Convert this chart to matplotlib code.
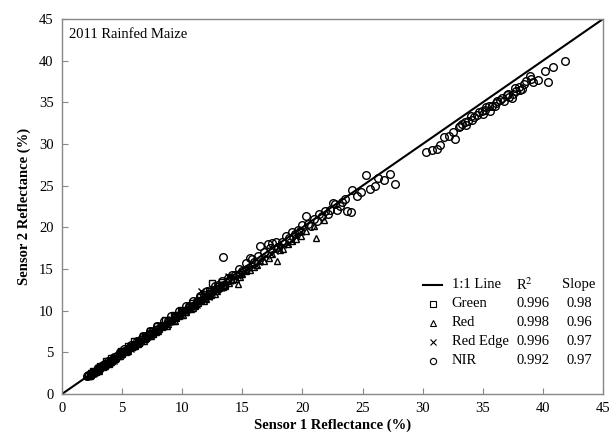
import numpy as np
import matplotlib.pyplot as plt

plt.rcParams['font.family'] = ['Liberation Serif', 'DejaVu Serif']
plt.rcParams['mathtext.fontset'] = 'stix'

# Green band (sensor 1, sensor 2 reflectance %)
green_x = [2.3, 2.4, 2.5, 2.7, 2.9, 3.0, 3.1, 3.3, 3.5, 3.6, 3.8, 4.0, 4.3, 4.6,
           4.8, 5.0, 5.1, 5.2, 5.4, 5.6, 5.7, 5.9, 6.1, 6.3, 6.6, 6.9, 7.1, 7.4,
           7.7, 8.0, 8.2, 8.5, 8.8, 9.1, 9.4, 9.7, 10.0, 10.3, 10.6, 10.9, 11.3,
           11.6, 12.0, 12.3, 12.5, 12.7, 13.1, 13.4, 13.8, 14.2, 14.7, 15.3,
           2.2, 2.6, 2.8, 3.2, 3.4, 3.7, 3.9, 4.1, 4.4, 4.9, 5.3, 5.5, 5.8, 6.0,
           6.4, 6.7, 7.0, 7.3, 7.6, 7.9, 8.3, 8.6, 9.0, 9.3, 9.6, 9.9, 10.2, 10.8,
           11.1, 11.5, 11.9, 12.2, 12.9, 13.3, 13.6]
green_y = [2.3, 2.5, 2.5, 2.6, 2.9, 3.1, 3.0, 3.3, 3.4, 3.6, 3.7, 4.0, 4.2, 4.5,
           4.8, 4.9, 5.1, 5.1, 5.3, 5.5, 5.7, 5.8, 5.9, 6.2, 6.4, 6.8, 6.9, 7.3,
           7.5, 7.8, 8.1, 8.3, 8.7, 8.9, 9.2, 9.5, 9.8, 10.1, 10.4, 10.6, 11.1,
           11.3, 11.8, 12.1, 13.3, 12.4, 12.9, 13.0, 13.5, 13.8, 14.4, 14.9,
           2.1, 2.7, 2.6, 3.4, 3.2, 3.9, 3.6, 4.3, 4.2, 5.1, 5.0, 5.7, 5.6, 6.3,
           6.1, 6.9, 6.7, 7.5, 7.2, 8.1, 8.0, 8.9, 8.7, 9.5, 9.3, 10.1, 9.8, 10.9,
           10.7, 11.6, 11.5, 12.4, 12.6, 13.4, 13.1]

# Red band
red_x = [2.2, 2.4, 2.6, 2.8, 3.0, 3.2, 3.5, 3.7, 4.0, 4.2, 4.5, 4.7, 5.0, 5.3,
         5.5, 5.8, 6.0, 6.3, 6.6, 6.9, 7.2, 7.5, 7.8, 8.1, 8.5, 8.8, 9.2, 9.5,
         9.9, 10.3, 10.7, 11.1, 11.5, 12.0, 12.4, 12.9, 13.4, 13.9, 14.5, 14.6,
         15.0, 15.6, 16.2, 16.8, 17.5, 17.9, 18.1, 18.8, 19.5, 20.3, 21.0, 21.1,
         21.8,
         2.3, 2.5, 2.7, 2.9, 3.1, 3.4, 3.6, 3.9, 4.1, 4.4, 4.8, 5.1, 5.4, 5.7,
         6.1, 6.4, 6.8, 7.1, 7.4, 7.7, 8.0, 8.3, 8.7, 9.0, 9.4, 9.7, 10.1, 10.5,
         10.9, 11.3, 11.8, 12.2, 12.7, 13.1, 13.6, 14.1, 14.8, 15.3, 16.0, 16.5,
         17.2, 18.4, 19.1, 19.9]
red_y = [2.2, 2.3, 2.5, 2.7, 2.9, 3.1, 3.3, 3.6, 3.8, 4.0, 4.3, 4.5, 4.8, 5.1,
         5.2, 5.6, 5.7, 6.0, 6.3, 6.6, 6.9, 7.2, 7.4, 7.8, 8.1, 8.4, 8.8, 9.1,
         9.5, 9.8, 10.2, 10.6, 11.1, 11.4, 11.9, 12.3, 12.8, 13.3, 13.8, 13.2,
         14.4, 14.9, 15.5, 16.0, 16.8, 16.0, 17.3, 18.0, 18.6, 19.5, 20.1, 18.7,
         20.9,
         2.1, 2.5, 2.5, 2.9, 2.8, 3.4, 3.3, 3.9, 3.8, 4.3, 4.5, 5.0, 5.1, 5.6,
         5.7, 6.3, 6.4, 7.0, 7.0, 7.6, 7.5, 8.1, 8.2, 8.8, 8.8, 9.4, 9.5, 10.2,
         10.3, 10.9, 11.2, 11.8, 12.0, 12.7, 12.9, 13.7, 14.0, 14.8, 15.2, 16.0,
         16.3, 17.4, 18.4, 18.9]

# Red edge band
re_x = [2.5, 2.7, 3.0, 3.3, 3.6, 3.9, 4.2, 4.5, 4.9, 5.2, 5.5, 5.9, 6.2, 6.6,
        7.0, 7.3, 7.7, 8.1, 8.5, 8.9, 9.3, 9.7, 10.1, 10.6, 11.0, 11.5, 11.6,
        12.0, 12.5, 13.0, 13.5, 13.8, 14.0, 14.6, 15.2, 15.8, 16.4, 17.0, 17.7,
        18.4, 19.1, 19.9,
        2.4, 2.6, 2.9, 3.1, 3.4, 3.7, 4.0, 4.3, 4.7, 5.0, 5.3, 5.7, 6.0, 6.4,
        6.8, 7.1, 7.5, 7.9, 8.3, 8.7, 9.1, 9.5, 9.9, 10.3, 10.8, 11.2, 11.8,
        12.2, 12.8, 13.2, 14.3, 14.9, 15.5, 16.1, 16.7, 17.4, 18.0, 18.8, 19.5]
re_y = [2.4, 2.7, 2.9, 3.2, 3.5, 3.8, 4.1, 4.4, 4.7, 5.1, 5.3, 5.8, 6.0, 6.4,
        6.8, 7.1, 7.4, 7.9, 8.3, 8.6, 9.1, 9.4, 9.8, 10.3, 10.7, 11.1, 12.4,
        11.7, 12.1, 12.6, 13.2, 14.2, 13.5, 14.2, 14.7, 15.4, 15.8, 16.6, 17.1,
        17.9, 18.4, 19.4,
        2.5, 2.4, 3.0, 2.9, 3.5, 3.5, 4.1, 4.0, 4.7, 4.8, 5.3, 5.4, 6.0, 6.1,
        6.8, 6.8, 7.5, 7.5, 8.2, 8.3, 9.0, 9.1, 9.8, 9.8, 10.6, 10.7, 11.6,
        11.6, 12.5, 12.7, 14.0, 14.4, 15.1, 15.5, 16.3, 16.8, 17.6, 18.0, 19.1]

# NIR band
nir_x = [2.1, 2.4, 2.8, 3.2, 3.6, 4.1, 4.6, 5.0, 5.5, 6.0, 6.5, 7.0, 7.6, 8.2,
         8.8, 9.4, 10.0, 10.6, 11.2, 11.8, 12.4, 13.0, 13.4, 13.8, 14.4, 15.0,
         15.6, 16.0, 16.5, 17.1, 17.5, 18.0, 18.3, 18.9, 19.4, 19.8, 20.3, 20.7,
         21.2, 21.6, 22.1, 22.5, 22.9, 23.3, 23.7, 24.0, 24.1, 24.5, 24.9, 25.3,
         25.6, 26.0, 26.3, 26.8, 27.3, 27.7,
         2.2, 2.6, 3.0, 3.4, 3.8, 4.3, 4.8, 5.2, 5.7, 6.2, 6.7, 7.3, 7.9, 8.5,
         9.1, 9.7, 10.3, 10.9, 11.5, 12.1, 12.7, 13.3, 14.1, 14.7, 15.3, 15.8,
         16.3, 16.8, 17.3, 17.8, 18.6, 19.1, 19.6, 20.0, 20.5, 21.0, 21.4, 21.9,
         22.3, 22.7, 23.1, 23.5,
         30.3, 30.8, 31.2, 31.4, 31.8, 32.2, 32.5, 32.7, 33.0, 33.1, 33.3, 33.5,
         33.6, 33.8, 34.0, 34.1, 34.3, 34.5, 34.7, 34.9, 35.0, 35.2, 35.3, 35.5,
         35.6, 35.8, 36.0, 36.1, 36.2, 36.4, 36.6, 36.8, 37.0, 37.1, 37.2, 37.4,
         37.5, 37.7, 37.8, 38.0, 38.1, 38.3, 38.4, 38.6, 38.9, 39.0, 39.2, 39.6,
         40.2, 40.4, 40.8, 41.8]
nir_y = [2.1, 2.4, 2.8, 3.1, 3.6, 4.0, 4.6, 5.0, 5.4, 5.9, 6.5, 7.0, 7.5, 8.2,
         8.7, 9.4, 9.9, 10.5, 11.1, 11.9, 12.3, 13.1, 16.4, 13.9, 14.3, 14.8,
         16.3, 15.8, 17.7, 18.0, 18.1, 17.6, 18.2, 18.7, 19.2, 19.5, 21.4, 20.2,
         20.7, 21.3, 21.6, 22.9, 22.1, 23.0, 21.9, 21.8, 24.5, 23.8, 24.2, 26.3,
         24.6, 25.0, 25.9, 25.7, 26.4, 25.2,
         2.3, 2.6, 3.1, 3.5, 3.9, 4.4, 5.0, 5.4, 5.9, 6.4, 6.9, 7.5, 8.1, 8.7,
         9.3, 9.9, 10.5, 11.2, 11.7, 12.3, 13.0, 13.6, 14.3, 15.0, 15.7, 16.2,
         16.6, 17.0, 17.5, 18.2, 18.9, 19.4, 19.7, 20.3, 20.4, 21.0, 21.6, 22.0,
         22.1, 22.8, 22.5, 23.4,
         29.0, 29.3, 29.4, 29.9, 30.8, 31.0, 31.4, 30.6, 32.0, 32.1, 32.4, 32.6,
         32.3, 32.8, 33.4, 32.9, 33.2, 33.5, 33.8, 33.9, 33.6, 34.1, 34.4, 34.6,
         34.0, 34.6, 34.6, 34.9, 35.1, 35.3, 35.5, 35.2, 35.9, 36.0, 35.6, 35.5,
         36.0, 36.7, 36.4, 36.8, 36.5, 36.6, 37.2, 37.5, 38.2, 37.8, 37.4, 37.7,
         38.8, 37.4, 39.2, 40.0]

# legend table
leg_labels = ['Green', 'Red', 'Red Edge', 'NIR']
leg_markers = ['s', '^', 'x', 'o']
leg_r2 = ['0.996', '0.998', '0.996', '0.992']
leg_slope = ['0.98', '0.96', '0.97', '0.97']
ticks = [0, 5, 10, 15, 20, 25, 30, 35, 40, 45]

fig = plt.figure(figsize=(6.1, 4.42), dpi=100)
ax = fig.add_axes([0.1016, 0.1086, 0.887, 0.8485])

mk = dict(linestyle='none', mfc='none', mec='black', mew=1.0)
ax.plot(nir_x, nir_y, marker='o', ms=5.5, **mk)
ax.plot(re_x, re_y, marker='x', ms=5, **mk)
ax.plot(red_x, red_y, marker='^', ms=5, **mk)
ax.plot(green_x, green_y, marker='s', ms=4.5, **mk)
ax.plot([0, 45], [0, 45], color='black', lw=1.5)

ax.set_xlim(0, 45)
ax.set_ylim(0, 45)
ax.set_xticks(ticks)
ax.set_yticks(ticks)
ax.tick_params(direction='in', length=4, color='#888888', labelsize=10.5, pad=6)
for s in ax.spines.values():
    s.set_color('#888888')
    s.set_linewidth(1)

ax.set_xlabel('Sensor 1 Reflectance (%)', fontsize=10.5, fontweight='bold', labelpad=2)
ax.set_ylabel('Sensor 2 Reflectance (%)', fontsize=10.5, fontweight='bold', labelpad=6)
ax.text(0.013, 0.975, '2011 Rainfed Maize', transform=ax.transAxes,
        fontsize=10.5, va='top', ha='left')

# legend built as a small table in axes coordinates
tr = ax.transAxes
x_key, x_lab, x_r2, x_sl = 0.69, 0.7205, 0.84, 0.925
y0, dy = 0.291, 0.0505
ax.plot([x_key - 0.022, x_key + 0.012], [y0, y0], color='black', lw=1.5,
        transform=tr, clip_on=False)
ax.text(x_lab, y0, '1:1 Line', transform=tr, fontsize=10.5, va='center')
ax.text(x_r2, y0, 'R$^2$', transform=tr, fontsize=10.5, va='center')
ax.text(x_sl, y0, 'Slope', transform=tr, fontsize=10.5, va='center')
for i, lab in enumerate(leg_labels):
    yy = y0 - dy * (i + 1)
    lm = dict(mk, mew=0.8)
    ax.plot([x_key - 0.005], [yy], marker=leg_markers[i], ms=4.5, transform=tr,
            clip_on=False, **lm)
    ax.text(x_lab, yy, lab, transform=tr, fontsize=10.5, va='center')
    ax.text(x_r2, yy, leg_r2[i], transform=tr, fontsize=10.5, va='center')
    ax.text(x_sl + 0.008, yy, leg_slope[i], transform=tr, fontsize=10.5, va='center')

fig.savefig('out.png', dpi=100)
